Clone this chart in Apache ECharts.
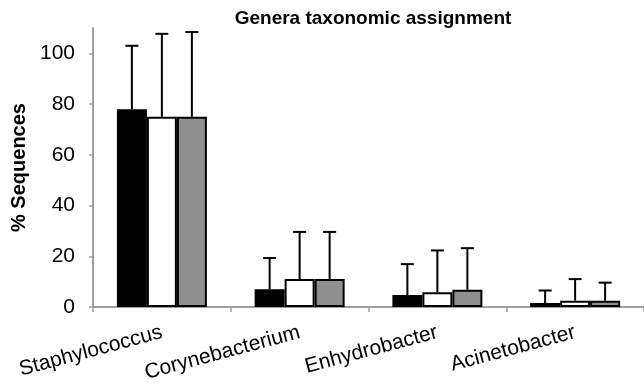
<!DOCTYPE html>
<html>
<head>
    <meta charset="utf-8">
    <title>Genera taxonomic assignment</title>
    <script src="https://cdn.jsdelivr.net/npm/echarts@6/dist/echarts.min.js"></script>
</head>
<body style="margin:0;background:#fff;">
<div id="main" style="width:644px;height:385px;"></div>
<script type="text/javascript">
    // data
    var genera = ['Staphylococcus', 'Corynebacterium', 'Enhydrobacter', 'Acinetobacter'];
    var blackMean = [78, 7, 4.7, 1.6];
    var whiteMean = [75, 11, 5.8, 2.5];
    var greyMean = [75, 11, 6.8, 2.5];
    var blackErr = [25, 12.3, 12.2, 4.9];
    var whiteErr = [32.7, 18.6, 16.5, 8.5];
    var greyErr = [33.4, 18.6, 16.4, 7.1];
    var yTicks = [0, 20, 40, 60, 80, 100];

    var myChart = echarts.init(document.getElementById('main'));

    var BAR_W = 30;
    var fontFam = '"Liberation Sans", Arial, sans-serif';

    function errSeries(means, errs, offset) {
        var d = [];
        for (var i = 0; i < means.length; i++) {
            d.push([i, means[i], means[i] + errs[i]]);
        }
        return {
            type: 'custom',
            z: 1,
            data: d,
            renderItem: function (params, api) {
                var lo = api.coord([api.value(0), api.value(1)]);
                var hi = api.coord([api.value(0), api.value(2)]);
                var x = lo[0] + offset;
                var capHalf = 6.5;
                var style = {stroke: '#000', lineWidth: 2};
                return {
                    type: 'group',
                    children: [
                        {type: 'line', shape: {x1: x, y1: lo[1], x2: x, y2: hi[1]}, style: style},
                        {type: 'line', shape: {x1: x - capHalf, y1: hi[1], x2: x + capHalf, y2: hi[1]}, style: style}
                    ]
                };
            }
        };
    }

    function barSeries(vals, fill) {
        return {
            type: 'bar',
            data: vals,
            barWidth: BAR_W,
            barGap: '0%',
            z: 2,
            itemStyle: {color: fill, borderColor: '#000', borderWidth: 2}
        };
    }

    var option = {
        animation: false,
        backgroundColor: '#fff',
        title: {
            text: 'Genera taxonomic assignment',
            left: 368,
            textAlign: 'center',
            top: 4,
            textStyle: {fontFamily: fontFam, fontSize: 19, fontWeight: 'bold', color: '#000'}
        },
        grid: {left: 93, right: 0, top: 28, bottom: 78},
        xAxis: {
            type: 'category',
            data: genera,
            axisLine: {lineStyle: {color: '#a0a0a0', width: 2}},
            axisTick: {show: true, length: 5, lineStyle: {color: '#a0a0a0', width: 1.5}},
            axisLabel: {
                rotate: 15,
                margin: 25,
                fontFamily: fontFam,
                fontSize: 21,
                color: '#000'
            }
        },
        yAxis: {
            type: 'value',
            min: 0,
            max: 110,
            interval: 20,
            name: '% Sequences',
            nameLocation: 'middle',
            nameGap: 56,
            nameTextStyle: {fontFamily: fontFam, fontSize: 20, fontWeight: 'bold', color: '#000'},
            splitLine: {show: false},
            axisLine: {show: true, lineStyle: {color: '#a0a0a0', width: 2}},
            axisTick: {show: true, length: 4, lineStyle: {color: '#a0a0a0', width: 1.5},
                customValues: yTicks},
            axisLabel: {
                margin: 18,
                fontFamily: fontFam,
                fontSize: 21,
                color: '#000',
                customValues: yTicks
            }
        },
        series: [
            barSeries(blackMean, '#000'),
            barSeries(whiteMean, '#fff'),
            barSeries(greyMean, '#8f8f8f'),
            errSeries(blackMean, blackErr, -BAR_W),
            errSeries(whiteMean, whiteErr, 0),
            errSeries(greyMean, greyErr, BAR_W)
        ]
    };
    myChart.setOption(option);
</script>
</body>
</html>
